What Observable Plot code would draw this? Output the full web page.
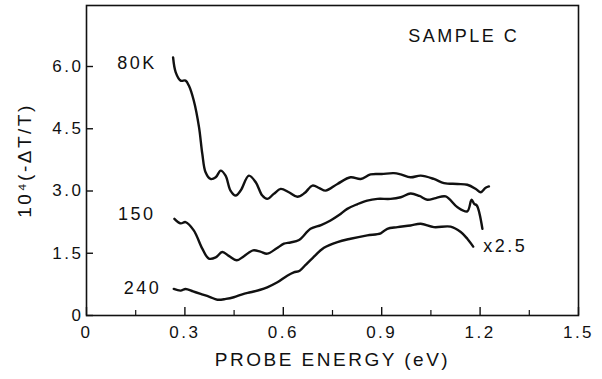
<!DOCTYPE html>
<html>
<head>
<meta charset="utf-8">
<script src="https://cdn.jsdelivr.net/npm/d3@7"></script>
<script src="https://cdn.jsdelivr.net/npm/@observablehq/plot@0.6"></script>
<style>
  body { margin: 0; background: #fff; }
  #chart svg text { letter-spacing: 2.5px; }
  #chart svg g[aria-label="sample-title"] text { word-spacing: 9px; }
</style>
</head>
<body>
<div id="chart"></div>
<script>
// ---- data ----
const energy80 = [0.264,0.272,0.287,0.302,0.312,0.327,0.343,0.353,0.363,0.378,0.394,0.409,0.424,0.439,0.455,0.470,0.495,0.516,0.536,0.551,0.571,0.592,0.617,0.643,0.665,0.689,0.710,0.729,0.765,0.805,0.836,0.866,0.900,0.937,0.958,0.988,1.019,1.059,1.090,1.131,1.161,1.187,1.202,1.217,1.227];
const signal80 = [6.22,5.86,5.66,5.66,5.54,5.18,4.54,3.90,3.45,3.29,3.33,3.49,3.37,3.01,2.89,3.01,3.37,3.21,2.89,2.81,2.93,3.05,2.97,2.86,2.95,3.13,3.07,3.01,3.17,3.33,3.29,3.40,3.41,3.43,3.40,3.33,3.37,3.29,3.19,3.17,3.15,3.05,2.97,3.08,3.11];

const energy150 = [0.268,0.287,0.302,0.327,0.353,0.373,0.394,0.414,0.435,0.458,0.480,0.508,0.530,0.551,0.580,0.602,0.622,0.648,0.683,0.715,0.744,0.770,0.795,0.825,0.856,0.887,0.927,0.958,0.988,1.015,1.039,1.065,1.095,1.131,1.161,1.174,1.182,1.190,1.207];
const signal150 = [2.33,2.22,2.25,2.05,1.61,1.37,1.40,1.53,1.43,1.33,1.43,1.57,1.54,1.49,1.62,1.73,1.76,1.82,2.09,2.18,2.29,2.42,2.57,2.68,2.77,2.81,2.81,2.85,2.94,2.88,2.79,2.83,2.87,2.61,2.51,2.79,2.69,2.65,2.09];

const energy240 = [0.266,0.287,0.302,0.325,0.348,0.375,0.399,0.425,0.449,0.475,0.500,0.530,0.551,0.582,0.612,0.632,0.650,0.668,0.690,0.724,0.765,0.805,0.856,0.897,0.917,0.948,0.988,1.019,1.059,1.110,1.141,1.161,1.179];
const signal240 = [0.64,0.60,0.64,0.58,0.52,0.45,0.38,0.40,0.44,0.51,0.56,0.62,0.68,0.80,0.96,1.04,1.08,1.22,1.39,1.63,1.77,1.85,1.93,1.98,2.09,2.13,2.17,2.21,2.13,2.14,2.01,1.85,1.66];

const seriesNames = ["80K", "150", "240"];
const labelEnergy = [0.154, 0.153, 0.171];
const labelSignal = [6.07, 2.45, 0.65];
const scaleNote = "x2.5";
const sampleTitle = "SAMPLE C";

const xTickValues = [0, 0.3, 0.6, 0.9, 1.2, 1.5];
const xTickLabels = ["0", "0.3", "0.6", "0.9", "1.2", "1.5"];
const xMinorTicks = [0.15, 0.45, 0.75, 1.05, 1.35];
const yTickValues = [0, 1.5, 3.0, 4.5, 6.0];
const yTickLabels = ["0", "1.5", "3.0", "4.5", "6.0"];
const xLabel = "PROBE ENERGY (eV)";
const yLabel = "10⁴(-ΔT/T)";

// ---- build table ----
const rows = [];
[[energy80, signal80], [energy150, signal150], [energy240, signal240]].forEach(([xs, ys], k) => {
  xs.forEach((e, i) => rows.push({series: seriesNames[k], energy: e, signal: ys[i]}));
});
const labels = seriesNames.map((s, i) => ({text: s, energy: labelEnergy[i], signal: labelSignal[i]}));
const last240 = {energy: energy240[energy240.length - 1], signal: signal240[signal240.length - 1]};

const W = 602, H = 379;
const mL = 86, mR = 24, mT = 5, mB = 64;
const frameW = W - mL - mR, frameH = H - mT - mB;

const chart = Plot.plot({
  width: W, height: H,
  marginLeft: mL, marginRight: mR, marginTop: mT, marginBottom: mB,
  style: {fontFamily: "Liberation Sans, Arial, sans-serif", fontSize: "17px", color: "#111", background: "#fff"},
  x: {domain: [0, 1.5], axis: null},
  y: {domain: [0, 7.47], axis: null},
  marks: [
    Plot.frame({stroke: "#111", strokeWidth: 1.6}),
    Plot.tickX(xTickValues, {x: d => d, insetTop: frameH - 8, stroke: "#111", strokeWidth: 1.4}),
    Plot.tickX(xMinorTicks, {x: d => d, insetTop: frameH - 5, stroke: "#111", strokeWidth: 1.2}),
    Plot.tickY(yTickValues, {y: d => d, insetRight: frameW - 7, stroke: "#111", strokeWidth: 1.4}),
    Plot.axisX(xTickValues, {tickSize: 0, tickPadding: 10, fontSize: 17, label: null,
      tickFormat: d => xTickLabels[xTickValues.indexOf(d)]}),
    Plot.axisY(yTickValues, {tickSize: 0, tickPadding: 3, fontSize: 17, label: null,
      tickFormat: d => yTickLabels[yTickValues.indexOf(d)]}),
    Plot.line(rows, {x: "energy", y: "signal", z: "series", stroke: "#111", strokeWidth: 2.4, curve: "catmull-rom"}),
    Plot.text(labels, {x: "energy", y: "signal", text: "text", fontSize: 18, fill: "#111"}),
    Plot.text([scaleNote], {x: last240.energy, y: last240.signal, text: d => d, textAnchor: "start", dx: 10, fontSize: 18, fill: "#111"}),
    Plot.text([sampleTitle], {x: 1.15, y: 6.72, text: d => d, fontSize: 18, fill: "#111", ariaLabel: "sample-title"}),
    Plot.text([xLabel], {frameAnchor: "bottom", text: d => d, dy: 50, fontSize: 19, fill: "#111"}),
    Plot.text([yLabel], {frameAnchor: "left", textAnchor: "middle", text: d => d, rotate: -90, dx: -62, fontSize: 19, fill: "#111"})
  ]
});
document.getElementById("chart").appendChild(chart);
</script>
</body>
</html>
